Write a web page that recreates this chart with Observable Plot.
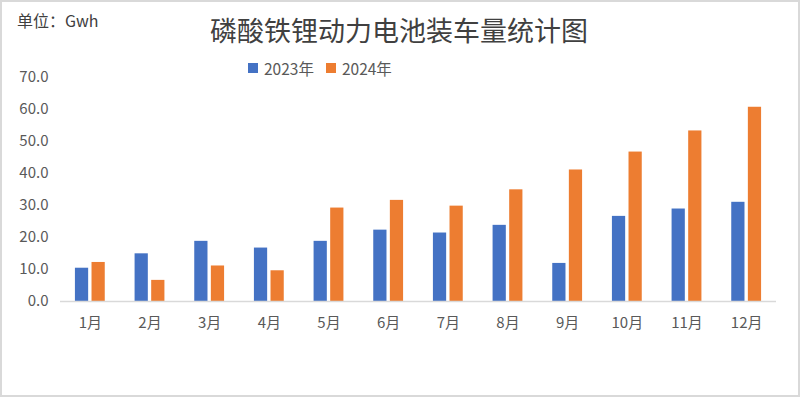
<!DOCTYPE html>
<html>
<head>
<meta charset="utf-8">
<script src="https://cdn.jsdelivr.net/npm/d3@7"></script>
<script src="https://cdn.jsdelivr.net/npm/@observablehq/plot@0.6"></script>
<style>
  body { margin: 0; background: #fff; }
  #wrap { position: relative; width: 800px; height: 397px; overflow: hidden; background: #fff;
          font-family: "Noto Sans CJK SC", "Noto Sans", sans-serif; }
  #wrap svg { position: absolute; left: 0; top: 0; }
  #frame { position: absolute; left: 0; top: 0; width: 800px; height: 397px; box-sizing: border-box;
           border: 2px solid #d9d9d9; pointer-events: none; }
  #unit { position: absolute; left: 17px; top: 11px; font-size: 16px; color: #404040; line-height: 1.2; }
  #title { position: absolute; left: 0; top: 14px; width: 798px; text-align: center;
           font-size: 27px; color: #404040; line-height: 1.2; }
  #legend { position: absolute; left: 248px; top: 58px; font-size: 15.5px; color: #595959;
            display: flex; align-items: center; line-height: 20px; }
  .sw { display: inline-block; width: 10px; height: 10px; margin-right: 6px; }
  .item { display: flex; align-items: center; margin-right: 12px; }
</style>
</head>
<body>
<div id="wrap">
  <div id="unit"></div>
  <div id="title"></div>
  <div id="legend"></div>
  <div id="frame"></div>
</div>
<script>
const titleText = "磷酸铁锂动力电池装车量统计图";
const unitText = "单位：Gwh";
const months = ["1月","2月","3月","4月","5月","6月","7月","8月","9月","10月","11月","12月"];
const seriesNames = ["2023年", "2024年"];
const seriesColors = ["#4472C4", "#ED7D31"];
const v2023 = [10.4, 14.9, 18.8, 16.7, 18.8, 22.3, 21.4, 23.8, 11.9, 26.6, 28.9, 31.0];
const v2024 = [12.2, 6.6, 11.1, 9.6, 29.2, 31.6, 29.8, 34.9, 41.1, 46.7, 53.3, 60.7];
const yTicks = [0, 10, 20, 30, 40, 50, 60, 70];

document.getElementById("title").textContent = titleText;
document.getElementById("unit").textContent = unitText;
const legend = document.getElementById("legend");
seriesNames.forEach((n, i) => {
  const it = document.createElement("div");
  it.className = "item";
  const sw = document.createElement("span");
  sw.className = "sw";
  sw.style.background = seriesColors[i];
  const t = document.createElement("span");
  t.textContent = n;
  it.appendChild(sw); it.appendChild(t);
  legend.appendChild(it);
});

const rows = months.map((m, i) => ({month: m, a: v2023[i], b: v2024[i]}));
const barInset = 16.6;

const chart = Plot.plot({
  width: 800,
  height: 397,
  marginTop: 77,
  marginBottom: 96,
  marginLeft: 60,
  marginRight: 24,
  style: {fontFamily: '"Noto Sans CJK SC", "Noto Sans", sans-serif', fontSize: "15px", color: "#595959", background: "transparent"},
  x: {domain: months, paddingInner: 0.5, paddingOuter: 0.25, round: false, label: null, tickSize: 0, tickPadding: 16},
  y: {domain: [0, 70], ticks: yTicks, tickFormat: d => d.toFixed(1), tickSize: 0, tickPadding: 12, label: null},
  marks: [
    Plot.barY(rows, {x: "month", y: "a", fill: seriesColors[0], insetRight: barInset}),
    Plot.barY(rows, {x: "month", y: "b", fill: seriesColors[1], insetLeft: barInset}),
    Plot.ruleY([0], {stroke: "#d9d9d9", strokeWidth: 1.5})
  ]
});
document.getElementById("wrap").insertBefore(chart, document.getElementById("frame"));
</script>
</body>
</html>
